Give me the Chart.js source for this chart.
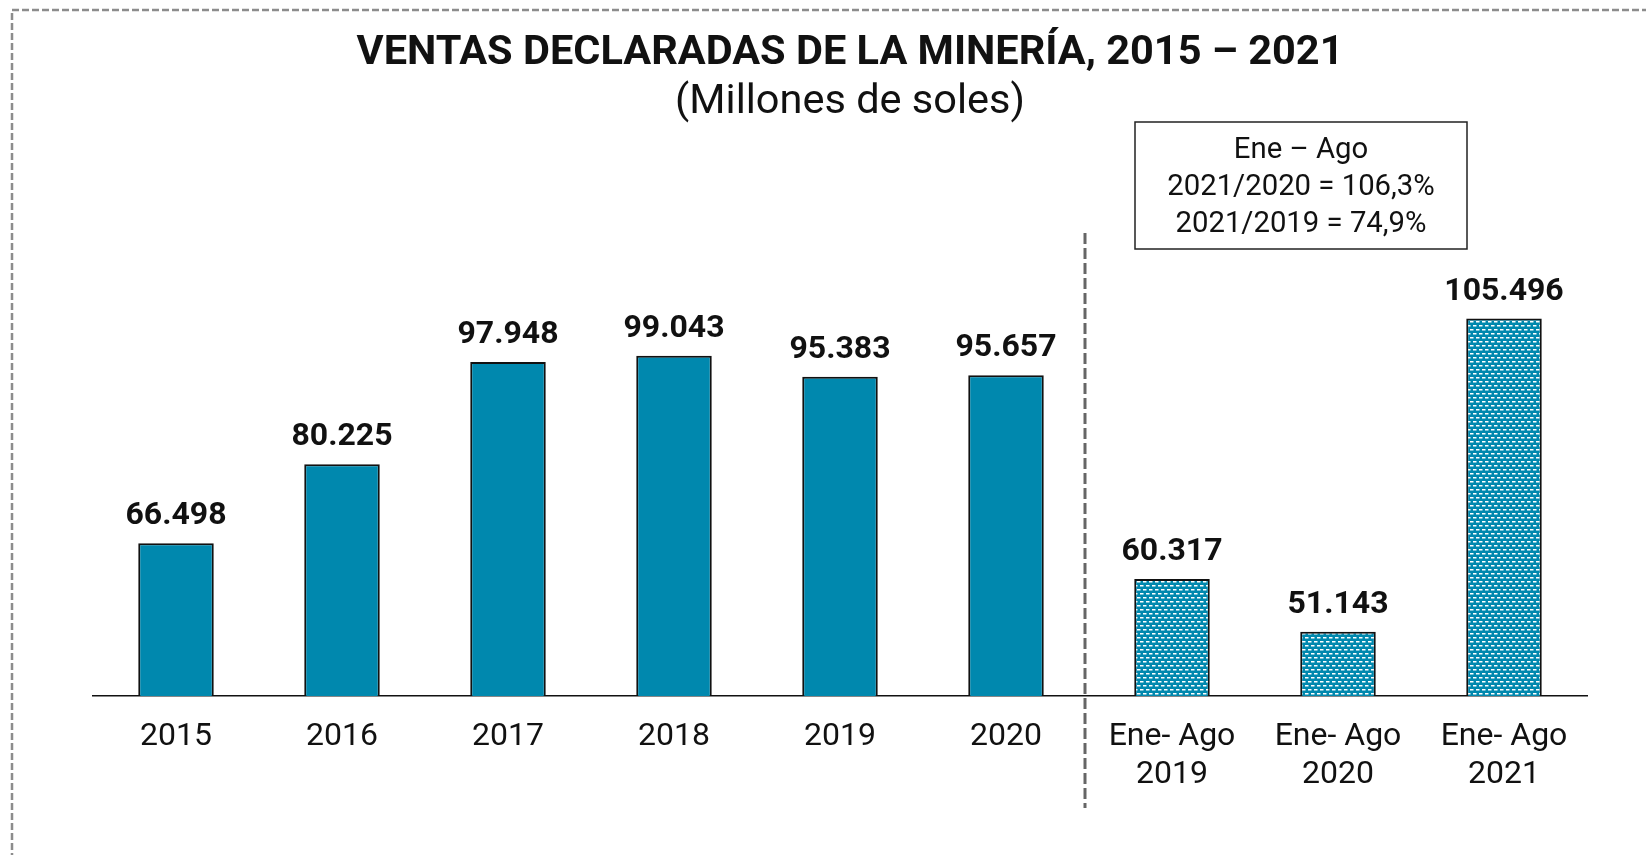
<!DOCTYPE html>
<html>
<head>
<meta charset="utf-8">
<script src="https://cdn.jsdelivr.net/npm/chart.js@4.4.1/dist/chart.umd.min.js"></script>
<style>
html,body{margin:0;padding:0;overflow:hidden;background:#fff}
#wrap{position:relative;width:1646px;height:855px}
</style>
</head>
<body>
<div id="wrap"><canvas id="ventasChart"></canvas></div>
<script>
/* datos */
const categories = ['2015','2016','2017','2018','2019','2020',['Ene- Ago','2019'],['Ene- Ago','2020'],['Ene- Ago','2021']];
const ventas = [66498, 80225, 97948, 99043, 95383, 95657, 60317, 51143, 105496];
const parcial = [false, false, false, false, false, false, true, true, true];
const notaLineas = ['Ene \u2013 Ago', '2021/2020 = 106,3%', '2021/2019 = 74,9%'];
const titulo = 'VENTAS DECLARADAS DE LA MINER\u00CDA, 2015 \u2013 2021';
const subtitulo = '(Millones de soles)';

const azul = '#0088ae';
const FONT = 'Roboto';

function miles(v){
return String(v).replace(/\B(?=(\d{3})+(?!\d))/g, '.');
}

/* trama de guiones blancos para Ene-Ago */
function trama(){
let c = document.createElement('canvas');
c.width = 6; c.height = 8;
let g = c.getContext('2d');
g.fillStyle = azul;
g.fillRect(0,0,6,8);
g.fillStyle = '#ffffff';
g.fillRect(0,1,3.5,1.5);
g.fillRect(3,5,3.5,1.5);
g.fillRect(-3,5,3.5,1.5);
return g.createPattern(c,'repeat');
}

const pattern = trama();

const decoPlugin = {
id:'deco',
afterDraw(chart){
const ctx = chart.ctx;
const x = chart.scales.x;
ctx.save();

/* marco punteado */
ctx.strokeStyle = '#8c8c8c';
ctx.lineWidth = 2.5;
ctx.setLineDash([7,3]);
ctx.beginPath();
ctx.moveTo(12, 900);
ctx.lineTo(12, 10);
ctx.lineTo(1700, 10);
ctx.stroke();

/* titulo */
ctx.setLineDash([]);
ctx.fillStyle = '#111';
ctx.textAlign = 'center';
ctx.textBaseline = 'alphabetic';
ctx.font = 'bold 41.5px ' + FONT;
ctx.fillText(titulo, 850, 64);
ctx.font = '41.5px ' + FONT;
ctx.fillText(subtitulo, 850, 113);

/* separador */
let sx = (x.getPixelForValue(5) + x.getPixelForValue(6)) / 2 - 4;
ctx.strokeStyle = '#666';
ctx.lineWidth = 3;
ctx.setLineDash([11,4]);
ctx.beginPath();
ctx.moveTo(sx, 233);
ctx.lineTo(sx, 808);
ctx.stroke();
ctx.setLineDash([]);

/* recuadro */
ctx.strokeStyle = '#222';
ctx.lineWidth = 1.5;
ctx.strokeRect(1135, 122, 332, 127);
ctx.font = '29.3px ' + FONT;
ctx.textBaseline = 'middle';
notaLineas.forEach(function(t, i){
ctx.fillText(t, 1301, 151 + i * 37);
});

/* etiquetas de valores */
ctx.font = 'bold 32px ' + FONT;
ctx.textBaseline = 'alphabetic';
chart.getDatasetMeta(0).data.forEach(function(bar, i){
ctx.fillText(miles(ventas[i]), bar.x, bar.y - 19);
});
ctx.restore();
}
};

let ctx = document.getElementById('ventasChart').getContext('2d');

new Chart(ctx,{
type:'bar',
data:{
labels: categories,
datasets:[{
data: ventas,
backgroundColor: parcial.map(function(p){ return p ? pattern : azul; }),
borderColor:'#111',
borderWidth:2,
borderSkipped:false,
categoryPercentage:1,
barPercentage:0.455
}]
},
options:{
responsive:true,
maintainAspectRatio:false,
animation:false,
layout:{padding:{top:235, left:93, right:59, bottom:39}},
plugins:{legend:{display:false}, tooltip:{enabled:false}},
scales:{
x:{
grid:{display:false, drawTicks:false},
border:{display:true, color:'#111', width:1.5},
ticks:{color:'#111', padding:22, font:{family:FONT, size:32, lineHeight:1.1875}, maxRotation:0, autoSkip:false}
},
y:{
display:false,
min:40000,
max:120000
}
}
},
plugins:[decoPlugin]
});
</script>
</body>
</html>
